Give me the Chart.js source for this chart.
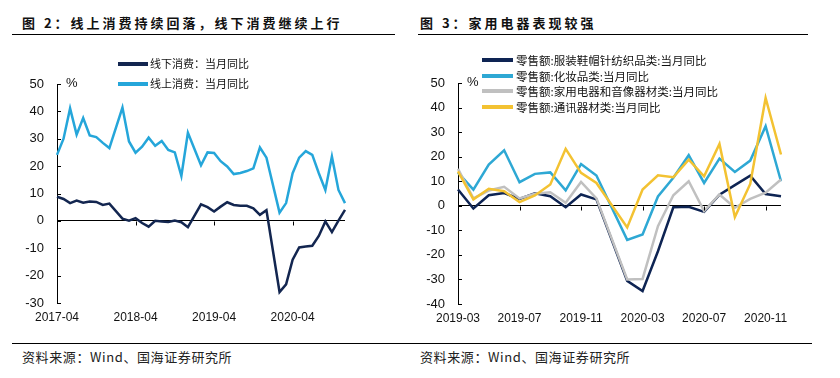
<!DOCTYPE html>
<html><head><meta charset="utf-8">
<script src="https://cdn.jsdelivr.net/npm/chart.js@4.4.1/dist/chart.umd.min.js"></script>
<style>
html,body{margin:0;padding:0;background:#fff}
body{width:840px;height:378px;position:relative;overflow:hidden;font-family:"Noto Sans CJK SC","Noto Sans",sans-serif;color:#111}
.title{position:absolute;top:13px;font-size:13px;font-weight:bold;letter-spacing:3px;white-space:nowrap;line-height:20px}
.rule{position:absolute;height:1px;background:#000}
.src{position:absolute;top:349px;font-size:13px;letter-spacing:0.6px;color:#222;white-space:nowrap;line-height:16px}
.pct{position:absolute;font-family:"Liberation Sans",Arial,sans-serif;font-size:13px;color:#111;line-height:14px}
canvas{position:absolute}
.leg{position:absolute;white-space:nowrap;color:#111}
.leg div{position:relative;height:0}
.leg span.ln{position:absolute;height:4px}
.leg span.tx{position:absolute;}
</style></head>
<body>
<div class="title" style="left:22px">图 2：线上消费持续回落，线下消费继续上行</div>
<div class="title" style="left:420px">图 3：家用电器表现较强</div>
<div class="rule" style="left:12px;top:34px;width:383px"></div>
<div class="rule" style="left:418px;top:34px;width:390px"></div>
<div class="rule" style="left:12px;top:343px;width:800px"></div>
<div class="src" style="left:22px">资料来源：Wind、国海证券研究所</div>
<div class="src" style="left:420px">资料来源：Wind、国海证券研究所</div>
<canvas id="c1" width="410" height="295" style="left:0;top:40px"></canvas>
<canvas id="c2" width="425" height="295" style="left:415px;top:40px"></canvas>
<div class="pct" style="left:66px;top:76px">%</div>
<div class="pct" style="left:467px;top:75px">%</div>
<div class="leg" id="leg1" style="left:118px;top:0"></div>
<div class="leg" id="leg2" style="left:482px;top:0"></div>
<script>
// ---------- Left chart data ----------
const leftMonths = [
 '2017-04','2017-05','2017-06','2017-07','2017-08','2017-09','2017-10','2017-11','2017-12',
 '2018-01','2018-02','2018-03','2018-04','2018-05','2018-06','2018-07','2018-08','2018-09','2018-10','2018-11','2018-12',
 '2019-01','2019-02','2019-03','2019-04','2019-05','2019-06','2019-07','2019-08','2019-09','2019-10','2019-11','2019-12',
 '2020-01','2020-02','2020-03','2020-04','2020-05','2020-06','2020-07','2020-08','2020-09','2020-10','2020-11','2020-12'];
const leftTickLabels = ['2017-04','2018-04','2019-04','2020-04'];
const offlineNames = '线下消费：当月同比';
const onlineNames = '线上消费：当月同比';
const offlineYoY = [8.8,8.0,6.5,7.4,6.6,7.1,6.9,5.8,6.3,null,0.8,0.1,1.0,-0.8,-2.1,0.0,-0.2,-0.4,0.1,-0.5,-2.3,null,
 6.0,5.0,3.4,5.2,6.8,5.8,5.5,5.5,4.6,2.2,3.9,null,-26.0,-23.2,-14.2,-9.7,-9.4,-9.1,-5.5,-0.2,-4.1,0.1,4.0];
const onlineYoY = [24.1,30.0,41.1,31.5,37.6,31.2,30.6,28.5,26.6,null,41.4,29.0,24.9,27.1,30.4,27.4,29.2,25.9,25.0,16.4,32.2,null,
 20.3,25.0,24.8,21.8,19.9,17.1,17.5,18.2,19.2,26.8,23.1,null,3.0,6.5,17.4,23.1,25.5,24.1,17.4,11.3,23.5,11.3,6.5];
const leftYTicks = {min:-30, max:50, step:10};

// ---------- Right chart data ----------
const rightMonths = ['2019-03','2019-04','2019-05','2019-06','2019-07','2019-08','2019-09','2019-10','2019-11','2019-12',
 '2020-01','2020-02','2020-03','2020-04','2020-05','2020-06','2020-07','2020-08','2020-09','2020-10','2020-11','2020-12'];
const rightTickLabels = ['2019-03','2019-07','2019-11','2020-03','2020-07','2020-11'];
const clothingName = '零售额:服装鞋帽针纺织品类:当月同比';
const cosmeticsName = '零售额:化妆品类:当月同比';
const applianceName = '零售额:家用电器和音像器材类:当月同比';
const commsName = '零售额:通讯器材类:当月同比';
const clothingYoY = [6.6,-1.1,4.3,5.2,2.8,5.1,3.9,-0.6,4.6,2.6,null,-30.6,-34.7,-18.5,-0.6,-0.4,-2.5,4.5,8.4,12.3,4.8,3.9];
const cosmeticsYoY = [13.5,6.6,16.8,22.6,9.6,13.0,13.6,6.3,17.0,12.3,null,-13.9,-11.7,3.8,11.4,20.6,9.3,19.2,13.8,18.4,32.4,10.0];
const applianceYoY = [15.0,3.0,6.2,7.7,3.0,4.9,5.5,1.2,9.7,3.0,null,-30.0,-29.8,-8.3,4.3,10.0,-2.2,4.6,-0.8,2.8,5.3,10.7];
const commsYoY = [14.0,2.6,6.9,5.9,1.5,4.2,8.7,23.2,13.4,9.3,null,-8.8,6.6,12.4,11.6,18.8,12.0,25.2,-4.6,8.9,43.9,20.9];
const rightYTicks = {min:-40, max:50, step:10};

Chart.defaults.font.family = '"Liberation Sans", Arial, sans-serif';
Chart.defaults.color = '#111';

const tickMarks = {
  id:'tickMarks',
  afterDatasetsDraw(chart, args, opts){
    const {ctx, chartArea, scales:{x, y}} = chart;
    ctx.save(); ctx.strokeStyle='#000'; ctx.lineWidth=1; ctx.beginPath();
    y.ticks.forEach(t=>{const py=Math.round(y.getPixelForValue(t.value))+0.5; ctx.moveTo(chartArea.left,py); ctx.lineTo(chartArea.left+4,py);});
    const y0 = Math.round(y.getPixelForValue(0))+0.5;
    opts.marks.forEach(l=>{const i=chart.data.labels.indexOf(l); if(i<=0) return; const px=Math.round(x.getPixelForValue(i))+0.5; ctx.moveTo(px,y0); ctx.lineTo(px,y0+4);});
    ctx.stroke(); ctx.restore();
  }
};

function makeChart(id, labels, datasets, yt, tickLabels, axisW, xH, pad){
  return new Chart(document.getElementById(id), {
    type:'line',
    data:{labels, datasets},
    plugins:[tickMarks],
    options:{
      responsive:false, animation:false, devicePixelRatio:1,
      layout:{padding:pad},
      spanGaps:true,
      elements:{point:{radius:0}, line:{tension:0, borderWidth:2.5, borderJoinStyle:'miter'}},
      plugins:{legend:{display:false}, tooltip:{enabled:false}, tickMarks:{marks:tickLabels}},
      scales:{
        x:{type:'category', offset:false,
           grid:{display:false, drawTicks:false}, border:{display:false},
           ticks:{autoSkip:false, maxRotation:0, minRotation:0, padding:7, font:{size:12}, color:'#111',
             callback:function(v){const l=this.getLabelForValue(v); return tickLabels.includes(l)?l:'';}},
           afterFit:s=>{s.height=xH;}},
        y:{min:yt.min, max:yt.max,
           ticks:{stepSize:yt.step, padding:13, font:{size:13}, color:'#111'},
           grid:{drawTicks:false, lineWidth:1, color:c=>c.tick && c.tick.value===0?'#000':'rgba(0,0,0,0)'},
           border:{display:true, color:'#000', width:1},
           afterFit:s=>{s.width=axisW;}}
      }
    }
  });
}

const c1 = makeChart('c1', leftMonths, [
  {label:offlineNames, data:offlineYoY, borderColor:'#132650', order:1},
  {label:onlineNames, data:onlineYoY, borderColor:'#25a6da', order:0}
], leftYTicks, leftTickLabels, 57, 32, {top:44, right:65, left:0, bottom:0});

const c2 = makeChart('c2', rightMonths, [
  {label:clothingName, data:clothingYoY, borderColor:'#0e2453', order:3},
  {label:cosmeticsName, data:cosmeticsYoY, borderColor:'#2ea8d4', order:2},
  {label:applianceName, data:applianceYoY, borderColor:'#c0c0c0', order:1},
  {label:commsName, data:commsYoY, borderColor:'#f3c232', order:0}
], rightYTicks, rightTickLabels, 43, 31, {top:43, right:59, left:0, bottom:0});

function buildLegend(el, chart, firstY, step, lineW, gap, fs){
  chart.data.datasets.forEach((d,i)=>{
    const y = firstY + i*step;
    const ln = document.createElement('span'); ln.className='ln';
    ln.style.cssText = `left:0;top:${y-2}px;width:${lineW}px;background:${d.borderColor}`;
    const tx = document.createElement('span'); tx.className='tx';
    tx.style.cssText = `left:${lineW+gap}px;top:${y-fs*0.7}px;font-size:${fs}px;line-height:${fs*1.4}px`;
    tx.textContent = d.label;
    el.appendChild(ln); el.appendChild(tx);
  });
}
buildLegend(document.getElementById('leg1'), c1, 64, 20, 30, 2, 11);
buildLegend(document.getElementById('leg2'), c2, 60, 15.6, 31, 3, 11.5);
</script>
</body></html>
